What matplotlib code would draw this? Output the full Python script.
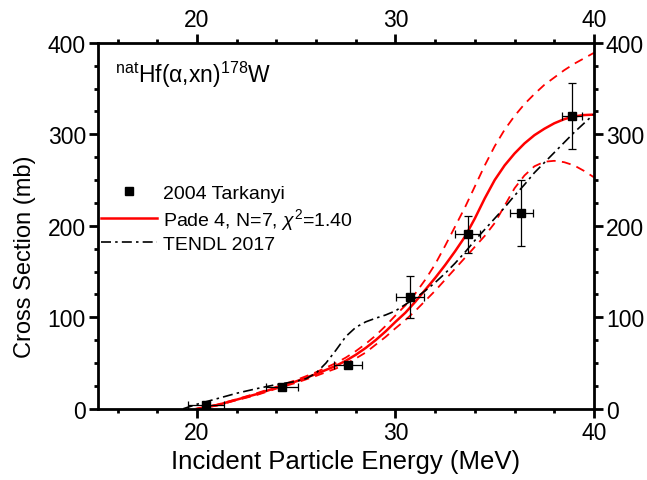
import numpy as np
import matplotlib
matplotlib.use("Agg")
import matplotlib.pyplot as plt
from matplotlib.ticker import MultipleLocator
from matplotlib.lines import Line2D

plt.rcParams['font.family'] = ['Liberation Sans', 'DejaVu Sans']
plt.rcParams['mathtext.fontset'] = 'custom'
plt.rcParams['mathtext.rm'] = 'Liberation Sans'
plt.rcParams['mathtext.it'] = 'Liberation Sans:italic'

# Tarkanyi 2004 data
exp_e = [20.46, 24.28, 27.62, 30.72, 33.64, 36.35, 38.9]
exp_xs = [4.5, 23.7, 47.4, 122.0, 190.5, 214.0, 319.5]
exp_de = [0.9, 0.8, 0.7, 0.7, 0.64, 0.6, 0.5]
exp_dxs = [0, 0, 0, 23, 20.5, 36.5, 36]

# Pade fit and its band
fit_e = [20, 20.5, 21, 21.5, 22, 22.5, 23, 23.5, 24, 24.5, 25, 25.5, 26, 26.5, 27, 27.5,
         28, 28.5, 29, 29.5, 30, 30.5, 31, 31.5, 32, 32.5, 33, 33.5, 34, 34.5, 35, 35.5,
         36, 36.5, 37, 37.5, 38, 38.5, 39, 39.5, 40]
fit_xs = [0, 2, 4, 7, 10, 13, 16, 19.5, 23, 26.5, 30, 34, 38, 42.5, 47, 52.5,
          59, 66.5, 75, 84.5, 95, 105, 117, 130, 143, 157, 172, 188, 208, 230, 250, 266,
          279, 290, 299, 306, 312, 316.5, 319.5, 321, 321.5]
fit_hi = [0, 2.3, 4.5, 7.5, 10.5, 13.7, 17, 20.5, 24, 27.7, 31.5, 35.7, 40, 45, 50, 56,
          63, 71, 80, 90.5, 102, 113, 126, 141, 158, 178, 199, 220, 243, 266, 287, 305,
          320, 333, 344, 354, 362, 370, 377, 383, 389]
fit_lo = [0, 1.7, 3.5, 6.5, 9.5, 12.2, 15, 18.5, 22, 25.2, 28.5, 32.2, 36, 40, 44, 49.2,
          55, 61.5, 70, 78.5, 88, 97, 107, 118, 129, 141, 153, 165, 177, 189, 203, 222,
          241, 255, 265, 270, 271, 269.5, 266, 260, 253]

# TENDL 2017
tendl_e = [19.3, 20, 21, 22, 23, 24, 25, 25.5, 26, 26.5, 27, 27.5, 28, 28.5, 29, 29.5,
           30, 30.5, 31, 31.5, 32, 32.5, 33, 33.5, 34, 34.5, 35, 35.5, 36, 36.5, 37,
           37.5, 38, 38.5, 39, 39.5, 40]
tendl_xs = [0, 5, 11, 17, 22, 26.5, 30, 33, 39, 50, 64, 79, 89, 95, 99, 102.5,
            107, 114, 121, 129, 138, 148, 159, 171, 184, 196, 208, 220, 233, 245, 258,
            269, 280, 291, 302, 312, 322]

fig = plt.figure(figsize=(6.47, 4.81), dpi=100)
ax = fig.add_axes([0.151, 0.148, 0.767, 0.761])

ax.plot(fit_e, fit_hi, color='red', lw=1.3, dashes=(5, 3.5))
ax.plot(fit_e, fit_lo, color='red', lw=1.3, dashes=(5, 3.5))
ax.plot(fit_e, fit_xs, color='red', lw=1.8)
ax.plot(tendl_e, tendl_xs, color='black', lw=1.2, dashes=(6, 2.5, 1.5, 2.5))
ax.errorbar(exp_e, exp_xs, xerr=exp_de, yerr=exp_dxs, fmt='s', color='black',
            ms=6, elinewidth=0.9, capsize=3, capthick=0.9, zorder=5)

ax.set_xlim(15, 40)
ax.set_ylim(0, 400)
ax.xaxis.set_major_locator(MultipleLocator(10))
ax.xaxis.set_minor_locator(MultipleLocator(2))
ax.yaxis.set_major_locator(MultipleLocator(100))
ax.yaxis.set_minor_locator(MultipleLocator(25))
ax.tick_params(which='both', direction='out', top=True, right=True,
               labeltop=True, labelright=True, labelsize=16.5, width=2)
ax.tick_params(which='major', length=6.5, pad=2)
ax.tick_params(which='minor', length=3)
for s in ax.spines.values():
    s.set_linewidth(2)

ax.set_xlabel('Incident Particle Energy (MeV)', fontsize=18.5)
ax.set_ylabel('Cross Section (mb)', fontsize=17)
ax.xaxis.set_label_coords(0.5, -0.11)
ax.yaxis.set_label_coords(-0.125, 0.418)

ax.text(0.035, 0.915, r'$\mathregular{^{nat}}$Hf(α,xn)$\mathregular{^{178}}$W',
        transform=ax.transAxes, fontsize=16.5, va='center', ha='left')

handles = [Line2D([], [], ls='none', marker='s', color='black', ms=6),
           Line2D([], [], color='red', lw=1.8),
           Line2D([], [], color='black', lw=1.2, dashes=(6, 2.5, 1.5, 2.5))]
labels = ['2004 Tarkanyi', r'Pade 4, N=7, $\chi^2$=1.40', 'TENDL 2017']
ax.legend(handles, labels, loc='upper left', bbox_to_anchor=(-0.01, 0.635),
          frameon=False, fontsize=14, handlelength=2.9, handletextpad=0.3,
          labelspacing=0.2, borderaxespad=0)

fig.savefig('out.png', dpi=100)
